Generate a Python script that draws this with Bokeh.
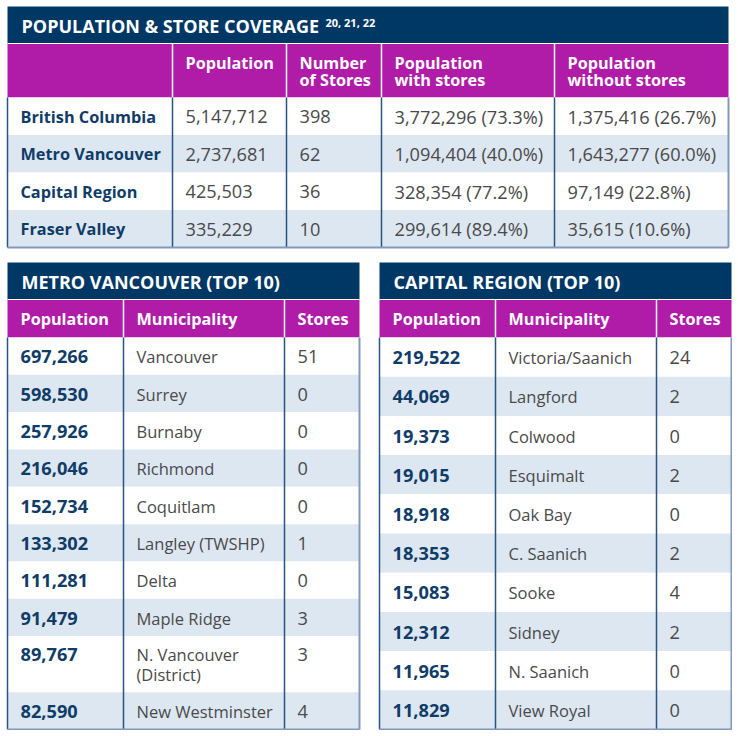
import re
from bokeh.plotting import figure
from bokeh.models import ColumnDataSource, Range1d
from bokeh.core.properties import value
from bokeh.embed import file_html
from bokeh.resources import INLINE

# ---------------- data ----------------
coverage_title = "POPULATION & STORE COVERAGE"
coverage_refs = "20, 21, 22"
coverage_headers = ["", "Population", "Number\nof Stores", "Population\nwith stores", "Population\nwithout stores"]
regions = ["British Columbia", "Metro Vancouver", "Capital Region", "Fraser Valley"]
region_population = [5147712, 2737681, 425503, 335229]
region_stores = [398, 62, 36, 10]
pop_with_stores = [3772296, 1094404, 328354, 299614]
pct_with_stores = [73.3, 40.0, 77.2, 89.4]
pop_without_stores = [1375416, 1643277, 97149, 35615]
pct_without_stores = [26.7, 60.0, 22.8, 10.6]

top10_headers = ["Population", "Municipality", "Stores"]

metro_title = "METRO VANCOUVER (TOP 10)"
metro_population = [697266, 598530, 257926, 216046, 152734, 133302, 111281, 91479, 89767, 82590]
metro_municipality = ["Vancouver", "Surrey", "Burnaby", "Richmond", "Coquitlam",
                      "Langley (TWSHP)", "Delta", "Maple Ridge", "N. Vancouver\n(District)",
                      "New Westminster"]
metro_stores = [51, 0, 0, 0, 0, 1, 0, 3, 3, 4]

capital_title = "CAPITAL REGION (TOP 10)"
capital_population = [219522, 44069, 19373, 19015, 18918, 18353, 15083, 12312, 11965, 11829]
capital_municipality = ["Victoria/Saanich", "Langford", "Colwood", "Esquimalt", "Oak Bay",
                        "C. Saanich", "Sooke", "Sidney", "N. Saanich", "View Royal"]
capital_stores = [24, 2, 0, 2, 0, 2, 4, 2, 0, 0]

# ---------------- style ----------------
FONT = "Open Sans"
NAVY = "#003865"
MAGENTA = "#b01ca8"
LIGHT = "#dde7f2"
DIVIDER = "#2a5480"
BORDER = "#7f9aba"
LABEL = "#103c68"
VALUE = "#4a4a4a"

W, H = 732, 730
p = figure(width=W, height=H, x_range=Range1d(0, W), y_range=Range1d(H, 0),
           output_backend="svg", toolbar_location=None, min_border=0)
p.axis.visible = False
p.grid.visible = False
p.outline_line_color = None
p.background_fill_color = "white"
p.border_fill_color = "white"

quads = dict(left=[], right=[], top=[], bottom=[], color=[])
texts = dict(x=[], y=[], text=[], color=[], style=[], size=[])
lines = dict(xs=[], ys=[], color=[], width=[])


def quad(l, r, t, b, c):
    quads["left"].append(l); quads["right"].append(r)
    quads["top"].append(t); quads["bottom"].append(b); quads["color"].append(c)


def text(x, y, s, c, style, size):
    texts["x"].append(x); texts["y"].append(y); texts["text"].append(s)
    texts["color"].append(c); texts["style"].append(style); texts["size"].append(size)


def line(xs, ys, c, w):
    lines["xs"].append(xs); lines["ys"].append(ys); lines["color"].append(c); lines["width"].append(w)


def body_size(s, bold):
    if re.search(r"[A-Za-z]", s):
        return "16.3px" if bold else "16.5px"
    return "18.2px"


def table(cols, title_top, header_top, body_top, row_bounds, title, headers, rows,
          bold_cols, header_first_y, sup=None):
    x0, x1 = cols[0], cols[-1]
    quad(x0, x1, title_top, header_top, NAVY)
    quad(x0, x1, header_top, body_top, MAGENTA)
    for i in range(len(row_bounds) - 1):
        quad(x0, x1, row_bounds[i], row_bounds[i + 1], "white" if i % 2 == 0 else LIGHT)
    text(x0 + 14, (title_top + header_top) / 2 + 0.5, title, "white", "bold", "18px")
    if sup:
        text(sup[0], sup[1], sup[2], "white", "bold", "11px")
    for j, h in enumerate(headers):
        for k, part in enumerate(h.split("\n")):
            if part:
                text(cols[j] + 13, header_first_y + k * 17, part, "white", "bold", "16.2px")
    for i, row in enumerate(rows):
        rt, rb = row_bounds[i], row_bounds[i + 1]
        multi = any("\n" in s for s in row)
        for j, s in enumerate(row):
            bold = j in bold_cols
            style = "bold" if bold else "normal"
            color = LABEL if bold else VALUE
            for k, part in enumerate(s.split("\n")):
                if multi:
                    y = rt + 18.5 + k * 20
                else:
                    y = (rt + rb) / 2 + 0.5
                text(cols[j] + 13, y, part, color, style, body_size(part, bold))
    for c in cols[1:-1]:
        line([c, c], [header_top, body_top], "white", 1.5)
    line([x0, x1], [header_top, header_top], "white", 1)
    bottom = row_bounds[-1]
    for c in cols[1:-1]:
        line([c, c], [body_top, bottom], DIVIDER, 1.5)
    line([x0, x0], [body_top, bottom], DIVIDER, 1.5)
    line([x1, x1], [body_top, bottom], BORDER, 2)
    line([x0, x1], [bottom, bottom], BORDER, 2)


def fmt(n):
    return f"{n:,}"


# ---- top table ----
top_rows = [[regions[i], fmt(region_population[i]), str(region_stores[i]),
             f"{fmt(pop_with_stores[i])} ({pct_with_stores[i]:.1f}%)",
             f"{fmt(pop_without_stores[i])} ({pct_without_stores[i]:.1f}%)"]
            for i in range(len(regions))]
top_cols = [7, 172, 286, 381, 554, 728]
top_row_h = (247 - 97) / len(regions)
top_bounds = [97 + i * top_row_h for i in range(len(regions) + 1)]
table(top_cols, 6, 43, 97, top_bounds, coverage_title, coverage_headers, top_rows,
      bold_cols={0}, header_first_y=62, sup=(325, 21.5, coverage_refs))

# ---- metro table ----
metro_rows = [[fmt(metro_population[i]), metro_municipality[i], str(metro_stores[i])]
              for i in range(len(metro_population))]
units = [1.5 if "\n" in m else 1.0 for m in metro_municipality]
unit_h = (729 - 337) / sum(units)
metro_bounds = [337]
for u in units:
    metro_bounds.append(metro_bounds[-1] + u * unit_h)
table([7, 123, 284, 359], 262, 299, 337, metro_bounds, metro_title, top10_headers,
      metro_rows, bold_cols={0}, header_first_y=318)

# ---- capital table ----
capital_rows = [[fmt(capital_population[i]), capital_municipality[i], str(capital_stores[i])]
                for i in range(len(capital_population))]
cap_h = (729 - 337) / len(capital_population)
capital_bounds = [337 + i * cap_h for i in range(len(capital_population) + 1)]
table([379, 495, 656, 731], 262, 299, 337, capital_bounds, capital_title, top10_headers,
      capital_rows, bold_cols={0}, header_first_y=318)

p.quad(left="left", right="right", top="top", bottom="bottom", fill_color="color",
       line_color=None, source=ColumnDataSource(quads))
p.multi_line(xs="xs", ys="ys", line_color="color", line_width="width",
             source=ColumnDataSource(lines))
p.text(x="x", y="y", text="text", text_color="color", text_font_style="style",
       text_font_size="size", text_font=value(FONT), text_baseline="middle",
       text_align="left", source=ColumnDataSource(texts))

open("out.html", "w").write(file_html(p, INLINE))
